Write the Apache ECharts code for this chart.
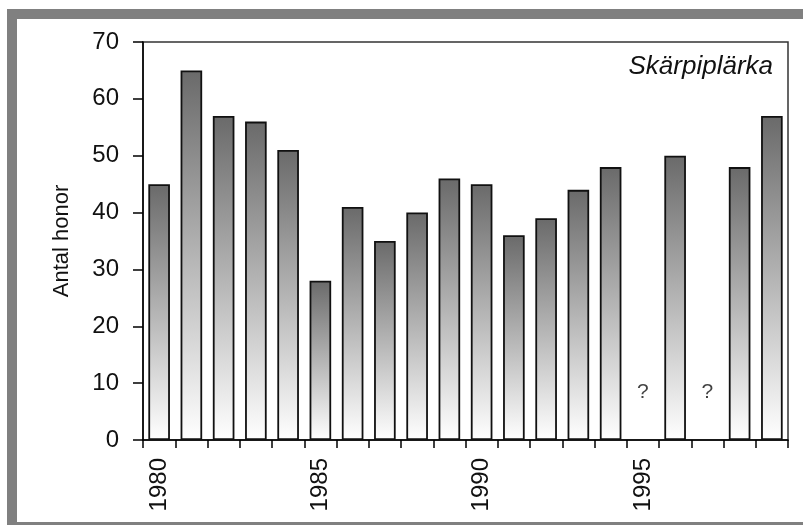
<!DOCTYPE html>
<html>
<head>
<meta charset="utf-8">
<script src="https://cdn.jsdelivr.net/npm/echarts@6/dist/echarts.min.js"></script>
<style>
html,body{margin:0;padding:0;background:#fff;}
#chart{width:803px;height:525px;}
</style>
</head>
<body>
<div id="chart"></div>
<script>
var years = ['1980','1981','1982','1983','1984','1985','1986','1987','1988','1989','1990','1991','1992','1993','1994','1995','1996','1997','1998','1999'];
var counts = [45,65,57,56,51,28,41,35,40,46,45,36,39,44,48,null,50,null,48,57];
var unknownYears = ['1995','1997'];
var unknownMarkY = 8.4;
var yTicks = [0,10,20,30,40,50,60,70];
var speciesName = 'Skärpiplärka';
var yAxisName = 'Antal honor';

var chart = echarts.init(document.getElementById('chart'), null, {renderer:'canvas'});
var font = '"Liberation Sans", Arial, sans-serif';
var option = {
  animation: false,
  backgroundColor: '#ffffff',
  graphic: [{
    type: 'rect',
    shape: {x: 12, y: 14, width: 900, height: 513},
    style: {fill: 'none', stroke: '#808080', lineWidth: 10},
    silent: true, z: -10
  }, {
    type: 'text',
    right: 30, top: 54,
    style: {text: speciesName, font: 'italic 26px ' + font, fill: '#111'}
  }],
  grid: {left: 143, top: 42, right: 15, bottom: 85, show: true, borderColor: '#333', borderWidth: 1.5, backgroundColor: '#ffffff'},
  xAxis: {
    type: 'category',
    data: years,
    axisLine: {lineStyle: {color: '#000', width: 1.5}},
    axisTick: {show: true, interval: 0, length: 8, lineStyle: {color: '#000', width: 1.5}},
    axisLabel: {interval: 4, rotate: 90, margin: 18, fontSize: 24, fontFamily: font, color: '#111'}
  },
  yAxis: {
    type: 'value',
    min: yTicks[0], max: yTicks[yTicks.length-1], interval: 10,
    name: yAxisName,
    nameLocation: 'middle',
    nameGap: 70,
    nameRotate: 90,
    nameTextStyle: {fontSize: 22, fontFamily: font, color: '#111'},
    axisLine: {show: true, lineStyle: {color: '#000', width: 1.5}},
    axisTick: {show: true, length: 10, lineStyle: {color: '#000', width: 1.5}},
    axisLabel: {margin: 24, fontSize: 24, fontFamily: font, color: '#111'},
    splitLine: {show: false}
  },
  series: [{
    type: 'bar',
    data: counts,
    barCategoryGap: '33%',
    itemStyle: {
      color: new echarts.graphic.LinearGradient(0, 0, 0, 1, [
        {offset: 0, color: '#6a6a6a'},
        {offset: 0.5, color: '#b4b4b4'},
        {offset: 1, color: '#ffffff'}
      ]),
      borderColor: '#111',
      borderWidth: 1.8
    }
  }, {
    type: 'scatter',
    data: unknownYears.map(function(y){ return [y, unknownMarkY]; }),
    symbolSize: 0,
    label: {show: true, position: 'inside', formatter: '?', fontSize: 21, fontFamily: font, color: '#111'}
  }]
};
chart.setOption(option);
</script>
</body>
</html>
